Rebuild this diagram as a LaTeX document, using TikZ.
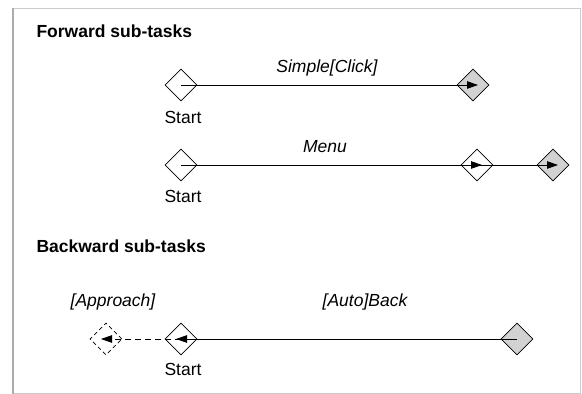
\documentclass[tikz,border=0pt]{standalone}
\usepackage{fontspec}
\setmainfont{Liberation Sans}
\usetikzlibrary{shapes.geometric,arrows.meta}

\tikzset{
  state/.style={diamond,draw,fill=white,minimum size=32pt,inner sep=0pt,line width=0.8pt},
  final/.style={state,fill=gray!35},
  ghost/.style={state,dash pattern=on 4pt off 3pt,line width=0.6pt},
  trans/.style={-{Triangle[length=11pt,width=7.5pt]},line width=0.8pt,shorten >=-5pt},
  lbl/.style={font=\fontsize{17.5}{20}\selectfont\itshape,anchor=base},
  txt/.style={font=\fontsize{17.5}{20}\selectfont,anchor=base},
  head/.style={font=\fontsize{17.5}{20}\selectfont\bfseries,anchor=base west},
}

\begin{document}
\begin{tikzpicture}[x=1pt,y=-1pt]
    \useasboundingbox (0,0) rectangle (582,394);
    \draw[gray!40] (13,8) rectangle (580,393);
    \draw[gray!65,line width=2pt] (13,8) -- (13,394);

    % forward sub-tasks
    \node[head] (fwd) at (33,37) {Forward sub-tasks};
    \node[state] (s1) at (181,85) {};
    \node[final] (e1) at (473,85) {};
    \draw[trans] (s1.center) -- (e1.center);
    \node[lbl] (l1) at (327,72) {Simple[Click]};
    \node[txt] (t1) at (183,123) {Start};

    \node[state] (s2) at (181,165) {};
    \node[state] (m2) at (477,165) {};
    \node[final] (e2) at (553,165) {};
    \draw[trans] (s2.center) -- (m2.center);
    \draw[trans] (m2.center) -- (e2.center);
    \node[lbl] (l2) at (325,152) {Menu};
    \node[txt] (t2) at (183,202) {Start};

    % backward sub-tasks
    \node[head] (bwd) at (33,252) {Backward sub-tasks};
    \node[ghost] (a3) at (106,339) {};
    \node[state] (s3) at (181,339) {};
    \node[final] (b3) at (517,339) {};
    \draw[trans] (b3.center) -- (s3.center);
    \draw[trans,dash pattern=on 6pt off 4pt] (s3.center) -- (a3.center);
    \node[lbl] (l3) at (113,306) {[Approach]};
    \node[lbl] (l4) at (365,306) {[Auto]Back};
    \node[txt] (t3) at (183,375) {Start};
\end{tikzpicture}
\end{document}
